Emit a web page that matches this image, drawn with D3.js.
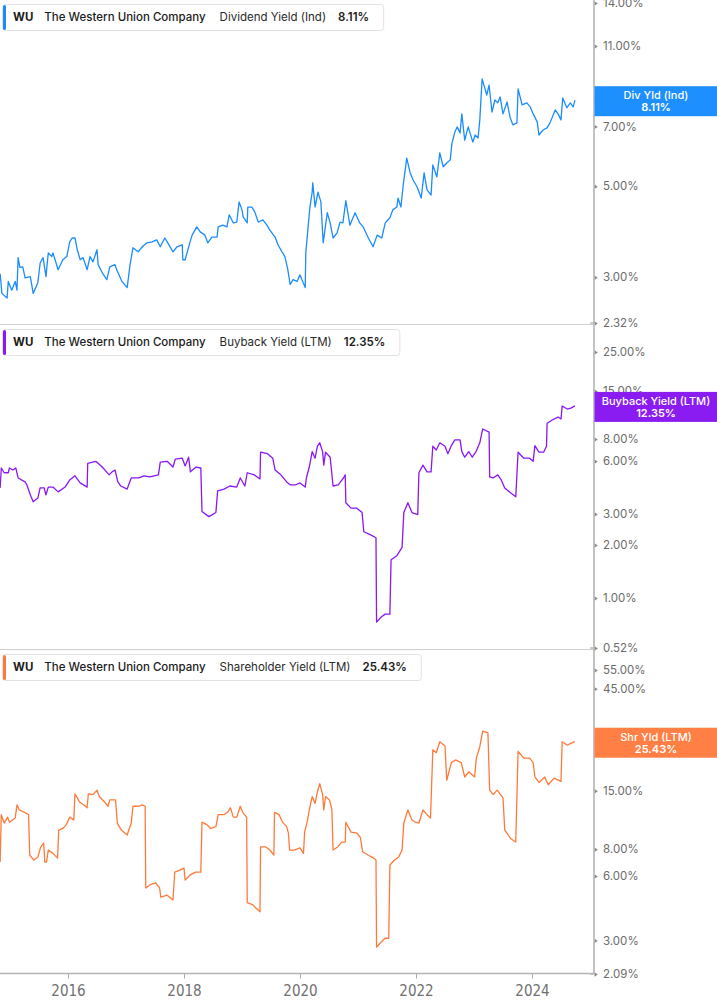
<!DOCTYPE html>
<html><head><meta charset="utf-8">
<script src="https://cdn.jsdelivr.net/npm/d3@7"></script>
<style>
body{margin:0;background:#fff;}
svg{display:block;}
</style>
</head><body>
<svg id="chart" width="717" height="1005"></svg>
<script>
// ---------------- DATA ----------------
const ticker = "WU";
const company = "The Western Union Company";
const metricNames = ["Dividend Yield (Ind)", "Buyback Yield (LTM)", "Shareholder Yield (LTM)"];
const badgeNames = ["Div Yld (Ind)", "Buyback Yield (LTM)", "Shr Yld (LTM)"];
const xTickYears = [2016, 2018, 2020, 2022, 2024];

const divTicks = [2.32, 3, 5, 7, 8, 11, 14];
const buyTicks = [0.52, 1, 2, 3, 6, 8, 15, 25];
const shrTicks = [2.09, 3, 6, 8, 15, 25, 45, 55];

const divDates = [2014.83,2014.86,2014.95,2014.97,2015.03,2015.09,2015.12,2015.14,2015.17,2015.22,
2015.26,2015.35,2015.40,2015.48,2015.52,2015.57,2015.62,2015.66,2015.72,2015.74,
2015.83,2015.91,2015.98,2016.03,2016.07,2016.12,2016.16,2016.21,2016.26,2016.33,
2016.38,2016.43,2016.50,2016.52,2016.60,2016.67,2016.72,2016.81,2016.84,2016.93,
2017.02,2017.07,2017.12,2017.21,2017.28,2017.36,2017.45,2017.53,2017.59,2017.67,
2017.72,2017.81,2017.88,2017.97,2017.98,2018.02,2018.10,2018.14,2018.22,2018.28,
2018.36,2018.41,2018.48,2018.57,2018.59,2018.67,2018.74,2018.78,2018.85,2018.91,
2018.95,2019.00,2019.02,2019.09,2019.10,2019.17,2019.22,2019.28,2019.36,2019.43,
2019.48,2019.57,2019.62,2019.69,2019.74,2019.79,2019.83,2019.88,2019.95,2020.00,
2020.09,2020.10,2020.14,2020.17,2020.21,2020.22,2020.26,2020.31,2020.36,2020.40,
2020.47,2020.52,2020.57,2020.64,2020.69,2020.74,2020.79,2020.86,2020.95,2021.03,
2021.09,2021.17,2021.26,2021.33,2021.41,2021.47,2021.55,2021.60,2021.67,2021.69,
2021.74,2021.78,2021.84,2021.90,2021.95,2022.02,2022.09,2022.14,2022.19,2022.26,
2022.29,2022.36,2022.41,2022.47,2022.53,2022.59,2022.62,2022.67,2022.71,2022.76,
2022.79,2022.84,2022.90,2022.98,2023.02,2023.07,2023.10,2023.14,2023.19,2023.22,
2023.26,2023.31,2023.36,2023.41,2023.45,2023.50,2023.57,2023.62,2023.67,2023.74,
2023.76,2023.83,2023.91,2023.97,2024.02,2024.09,2024.12,2024.19,2024.26,2024.31,
2024.40,2024.45,2024.50,2024.53,2024.60,2024.66,2024.71,2024.74];
const divValues = [3.06,2.74,2.67,2.93,2.79,2.93,2.79,3.35,3.17,3.18,
2.99,3.01,2.74,2.91,3.25,3.35,3.01,3.44,3.37,3.44,
3.13,3.31,3.37,3.66,3.74,3.74,3.50,3.31,3.35,3.13,
3.37,3.27,3.50,3.22,3.06,2.96,3.18,3.22,3.13,2.93,
2.83,3.22,3.54,3.46,3.56,3.64,3.66,3.70,3.56,3.74,
3.64,3.46,3.56,3.60,3.31,3.31,3.64,3.80,3.98,3.87,
3.80,3.64,3.76,3.76,3.98,4.02,3.98,4.26,4.07,4.09,
4.58,4.38,4.21,4.07,4.45,4.45,4.33,4.09,4.14,4.02,
3.91,3.76,3.60,3.46,3.37,3.13,2.88,2.96,2.93,3.04,
2.83,3.44,3.98,4.43,4.84,5.10,4.45,4.84,4.58,3.64,
4.31,4.07,3.74,3.85,4.09,4.07,4.61,4.02,4.31,4.07,
3.98,3.76,3.56,3.80,3.74,4.07,4.19,4.38,4.45,4.68,
4.45,5.04,5.86,5.39,5.18,4.98,4.68,5.39,4.90,4.76,
5.64,5.27,6.03,5.58,5.70,5.80,6.37,6.78,6.98,6.75,
7.51,6.48,6.98,6.41,6.67,6.56,7.26,9.14,8.64,8.35,
8.83,7.59,8.12,7.99,8.26,7.51,8.03,7.38,7.06,7.14,
8.64,7.90,7.99,7.81,7.51,7.18,6.67,6.86,6.94,7.14,
7.68,7.51,7.26,8.21,7.77,7.99,7.81,8.11];

const buyDates = [2014.83,2014.85,2014.90,2014.97,2014.99,2015.05,2015.10,2015.14,2015.26,2015.29,
2015.35,2015.40,2015.48,2015.52,2015.59,2015.62,2015.66,2015.74,2015.83,2015.95,
2016.03,2016.12,2016.21,2016.33,2016.34,2016.48,2016.59,2016.71,2016.76,2016.81,
2016.86,2016.91,2017.02,2017.09,2017.22,2017.31,2017.41,2017.56,2017.59,2017.71,
2017.81,2017.85,2017.97,2018.02,2018.08,2018.11,2018.21,2018.29,2018.31,2018.43,
2018.55,2018.58,2018.69,2018.79,2018.91,2018.97,2019.05,2019.09,2019.21,2019.31,
2019.32,2019.44,2019.53,2019.57,2019.67,2019.77,2019.83,2019.93,2020.00,2020.09,
2020.11,2020.16,2020.21,2020.26,2020.30,2020.34,2020.39,2020.41,2020.44,2020.52,
2020.57,2020.66,2020.75,2020.78,2020.79,2020.88,2020.98,2021.07,2021.10,2021.21,
2021.31,2021.32,2021.40,2021.47,2021.55,2021.57,2021.67,2021.76,2021.79,2021.86,
2021.93,2022.03,2022.05,2022.12,2022.19,2022.26,2022.29,2022.35,2022.41,2022.50,
2022.55,2022.61,2022.67,2022.76,2022.79,2022.84,2022.91,2022.97,2023.03,2023.10,
2023.15,2023.26,2023.27,2023.33,2023.41,2023.47,2023.53,2023.63,2023.72,2023.76,
2023.86,2023.96,2024.02,2024.05,2024.12,2024.20,2024.25,2024.26,2024.35,2024.45,
2024.50,2024.52,2024.61,2024.67,2024.74];
const buyValues = [4.22,5.48,5.15,5.15,5.48,5.34,5.48,4.81,4.57,4.40,
3.86,3.52,3.70,4.22,4.22,3.86,4.27,4.27,4.01,4.27,
4.69,4.95,4.51,4.27,5.83,5.98,5.55,5.01,5.21,5.34,
4.57,4.33,4.16,4.81,4.81,4.95,4.88,5.01,5.91,5.98,
5.55,6.15,6.23,5.63,6.31,5.21,5.55,5.48,3.10,2.90,
3.06,4.06,4.16,4.33,4.27,4.81,4.33,5.15,5.01,4.75,
6.74,6.61,6.23,5.34,5.01,4.57,4.40,4.40,4.51,4.27,
4.81,5.55,6.79,6.23,7.29,7.62,6.79,5.69,6.74,6.31,
4.33,4.40,4.81,5.01,3.48,3.24,3.24,3.06,2.38,2.29,
2.20,0.73,0.78,0.81,0.81,1.65,1.74,1.94,3.06,3.48,
3.06,2.98,5.15,5.69,5.21,5.21,7.29,6.94,7.62,7.29,
6.61,7.35,7.91,7.91,6.79,6.31,6.79,6.31,6.74,7.62,
9.13,8.76,4.88,4.81,5.01,4.69,4.22,3.96,3.76,6.74,
6.23,6.23,5.98,7.35,6.74,6.74,7.29,9.84,10.27,10.67,
10.41,12.33,11.85,12.00,12.35];

const shrDates = [2014.83,2014.85,2014.90,2014.96,2014.99,2015.09,2015.12,2015.16,2015.25,2015.32,
2015.34,2015.41,2015.48,2015.53,2015.58,2015.60,2015.63,2015.66,2015.74,2015.82,
2015.84,2015.91,2015.97,2016.03,2016.10,2016.12,2016.20,2016.27,2016.33,2016.35,
2016.43,2016.50,2016.54,2016.63,2016.69,2016.72,2016.82,2016.85,2016.92,2017.02,
2017.09,2017.12,2017.22,2017.28,2017.33,2017.34,2017.41,2017.51,2017.58,2017.60,
2017.71,2017.81,2017.84,2017.93,2018.00,2018.02,2018.10,2018.20,2018.29,2018.31,
2018.40,2018.46,2018.55,2018.59,2018.69,2018.75,2018.80,2018.85,2018.91,2018.97,
2019.02,2019.08,2019.09,2019.18,2019.24,2019.31,2019.32,2019.41,2019.48,2019.55,
2019.56,2019.64,2019.70,2019.77,2019.80,2019.82,2019.90,2020.00,2020.06,2020.08,
2020.13,2020.16,2020.21,2020.26,2020.30,2020.34,2020.39,2020.41,2020.44,2020.51,
2020.55,2020.57,2020.65,2020.72,2020.78,2020.79,2020.88,2020.98,2021.04,2021.08,
2021.17,2021.27,2021.31,2021.32,2021.40,2021.47,2021.53,2021.55,2021.63,2021.70,
2021.76,2021.79,2021.86,2021.93,2021.99,2022.05,2022.12,2022.19,2022.25,2022.29,
2022.35,2022.41,2022.50,2022.53,2022.61,2022.68,2022.78,2022.84,2022.91,2023.01,
2023.04,2023.10,2023.15,2023.24,2023.27,2023.33,2023.40,2023.50,2023.53,2023.63,
2023.72,2023.76,2023.86,2023.96,2024.02,2024.05,2024.12,2024.22,2024.28,2024.38,
2024.50,2024.52,2024.61,2024.67,2024.74];
const shrValues = [6.97,11.6,10.6,11.3,10.7,11.2,12.9,12.2,11.9,11.6,
7.52,7.12,7.35,8.20,8.55,6.97,6.97,7.93,7.65,7.27,
9.83,10.0,10.4,11.3,10.95,14.5,13.3,12.9,12.5,14.5,
14.4,15.1,14.1,13.3,12.7,13.6,13.6,10.6,9.83,9.32,
10.6,12.7,12.7,12.9,12.7,5.27,5.45,5.57,5.27,4.78,
4.88,4.63,6.25,6.39,6.53,5.74,6.05,6.25,6.25,10.7,
10.4,10.0,10.2,11.6,11.6,11.9,12.5,11.3,11.3,12.7,
11.8,11.3,4.50,4.41,4.25,4.08,8.20,8.20,7.93,7.52,
11.9,11.6,10.7,10.2,9.52,7.93,7.93,8.11,7.65,9.62,
10.95,12.2,14.1,13.1,14.8,16.2,14.4,12.2,14.1,13.6,
12.2,7.93,8.20,8.64,8.64,10.7,9.62,9.52,9.10,7.79,
7.52,7.27,7.12,2.79,2.95,3.07,3.07,6.75,7.12,7.35,
7.93,10.6,12.2,10.95,10.7,10.6,12.2,11.6,11.2,23.3,
22.6,25.4,24.3,16.8,20.3,20.9,20.3,17.4,18.4,17.4,
21.3,24.1,28.5,28.0,15.1,14.4,15.1,13.9,9.83,8.98,
8.64,22.9,21.3,21.3,20.3,17.4,16.4,17.4,16.0,17.2,
16.6,25.4,24.5,25.0,25.43];

// ---------------- LAYOUT ----------------
const W = 717, H = 1005;
const axisX = 594;
const FONT = "Inter, Roboto, 'Noto Sans', sans-serif";
const svg = d3.select("#chart").attr("font-family", FONT);

const x = d3.scaleLinear().domain([2016, 2024]).range([68, 532]);

const panels = [
  {metric: metricNames[0], badge: badgeNames[0], dates: divDates, values: divValues, ticks: divTicks,
   top: 0, range: [323, 3], color: "#1a8cff", badgeColor: "#1e8fff"},
  {metric: metricNames[1], badge: badgeNames[1], dates: buyDates, values: buyValues, ticks: buyTicks,
   top: 325, range: [648, 352], color: "#8a17f5", badgeColor: "#8a1cf2"},
  {metric: metricNames[2], badge: badgeNames[2], dates: shrDates, values: shrValues, ticks: shrTicks,
   top: 650, range: [974, 670], color: "#ff7a3a", badgeColor: "#ff7f45"}
];

// separators
[324.5, 649.5].forEach(yy => {
  svg.append("line").attr("x1", 0).attr("x2", axisX).attr("y1", yy).attr("y2", yy)
    .attr("stroke", "#cfcfcf").attr("stroke-width", 1);
});

panels.forEach(p => {
  const y = d3.scaleLog().domain(d3.extent(p.ticks)).range(p.range);
  p.y = y;
  const data = d3.zip(p.dates, p.values);
  svg.append("path").datum(data)
    .attr("fill", "none").attr("stroke", p.color).attr("stroke-width", 1.3)
    .attr("stroke-linejoin", "round")
    .attr("d", d3.line().x(d => x(d[0])).y(d => y(d[1])));

  // right axis
  const g = svg.append("g").attr("transform", `translate(${axisX},0)`)
    .call(d3.axisRight(y).tickValues(p.ticks).tickSize(0).tickPadding(9)
      .tickFormat(d => d.toFixed(2) + "%"));
  g.select(".domain").remove();
  g.selectAll("text").attr("font-family", FONT).attr("font-size", 11.5).attr("fill", "#6b6b6b");
  g.selectAll(".tick").append("path").attr("d", "M0.5,-2.2L3.8,0L0.5,2.2Z").attr("fill", "#8a8a8a");
  // little end segment at the bottom tick
  svg.append("line").attr("x1", axisX - 4).attr("x2", axisX).attr("y1", y(d3.min(p.ticks))).attr("y2", y(d3.min(p.ticks)))
    .attr("stroke", "#9a9a9a").attr("stroke-width", 1);
});

// vertical axis line
svg.append("line").attr("x1", axisX).attr("x2", axisX).attr("y1", 0).attr("y2", 974)
  .attr("stroke", "#b4b4b4").attr("stroke-width", 1.6);

// bottom x axis
const gx = svg.append("g").attr("transform", "translate(0,973.5)")
  .call(d3.axisBottom(x).tickValues(xTickYears).tickFormat(d3.format("d")).tickSize(5).tickPadding(7));
gx.select(".domain").remove();
gx.selectAll("line").attr("stroke", "#a8a8a8");
gx.selectAll("text").attr("font-family", "'Liberation Sans Narrow', 'DejaVu Sans Condensed', sans-serif")
  .attr("font-size", 15).attr("fill", "#707070");
svg.append("line").attr("x1", 0).attr("x2", axisX).attr("y1", 973.5).attr("y2", 973.5)
  .attr("stroke", "#b4b4b4").attr("stroke-width", 1.6);

// legends and badges
panels.forEach(p => {
  const top = p.top;
  const lg = svg.append("g");
  const box = lg.append("rect").attr("x", 2.5).attr("y", top + 4.5).attr("height", 26).attr("rx", 3)
    .attr("fill", "#fff").attr("stroke", "#e2e2e2");
  lg.append("rect").attr("x", 3).attr("y", top + 5).attr("width", 3).attr("height", 25).attr("rx", 1.5)
    .attr("fill", p.color);
  const last = p.values[p.values.length - 1];
  const parts = [
    {t: ticker, w: 700, gap: 11, fill: "#1b1b1b"},
    {t: company, w: 500, gap: 14, fill: "#1b1b1b"},
    {t: p.metric, w: 400, gap: 12, fill: "#2a2a2a"},
    {t: last.toFixed(2) + "%", w: 600, gap: 0, fill: "#1b1b1b"}
  ];
  let cx = 13;
  parts.forEach(pt => {
    const tx = lg.append("text").attr("x", cx).attr("y", top + 20.5)
      .attr("font-size", 11.5).attr("font-weight", pt.w).attr("fill", pt.fill).text(pt.t);
    cx += tx.node().getComputedTextLength() + pt.gap;
  });
  box.attr("width", cx + 12);

  // badge
  const cy = p.y(last) + 1;
  const bg = svg.append("g");
  bg.append("rect").attr("x", axisX + 0.5).attr("y", cy - 15).attr("width", W - axisX).attr("height", 30)
    .attr("fill", p.badgeColor);
  bg.append("text").attr("x", 656).attr("y", cy - 2).attr("text-anchor", "middle")
    .attr("font-size", 11).attr("font-weight", 500).attr("fill", "#fff").text(p.badge);
  bg.append("text").attr("x", 656).attr("y", cy + 10).attr("text-anchor", "middle")
    .attr("font-size", 11).attr("font-weight", 600).attr("fill", "#fff").text(last.toFixed(2) + "%");
});
</script>
</body></html>
